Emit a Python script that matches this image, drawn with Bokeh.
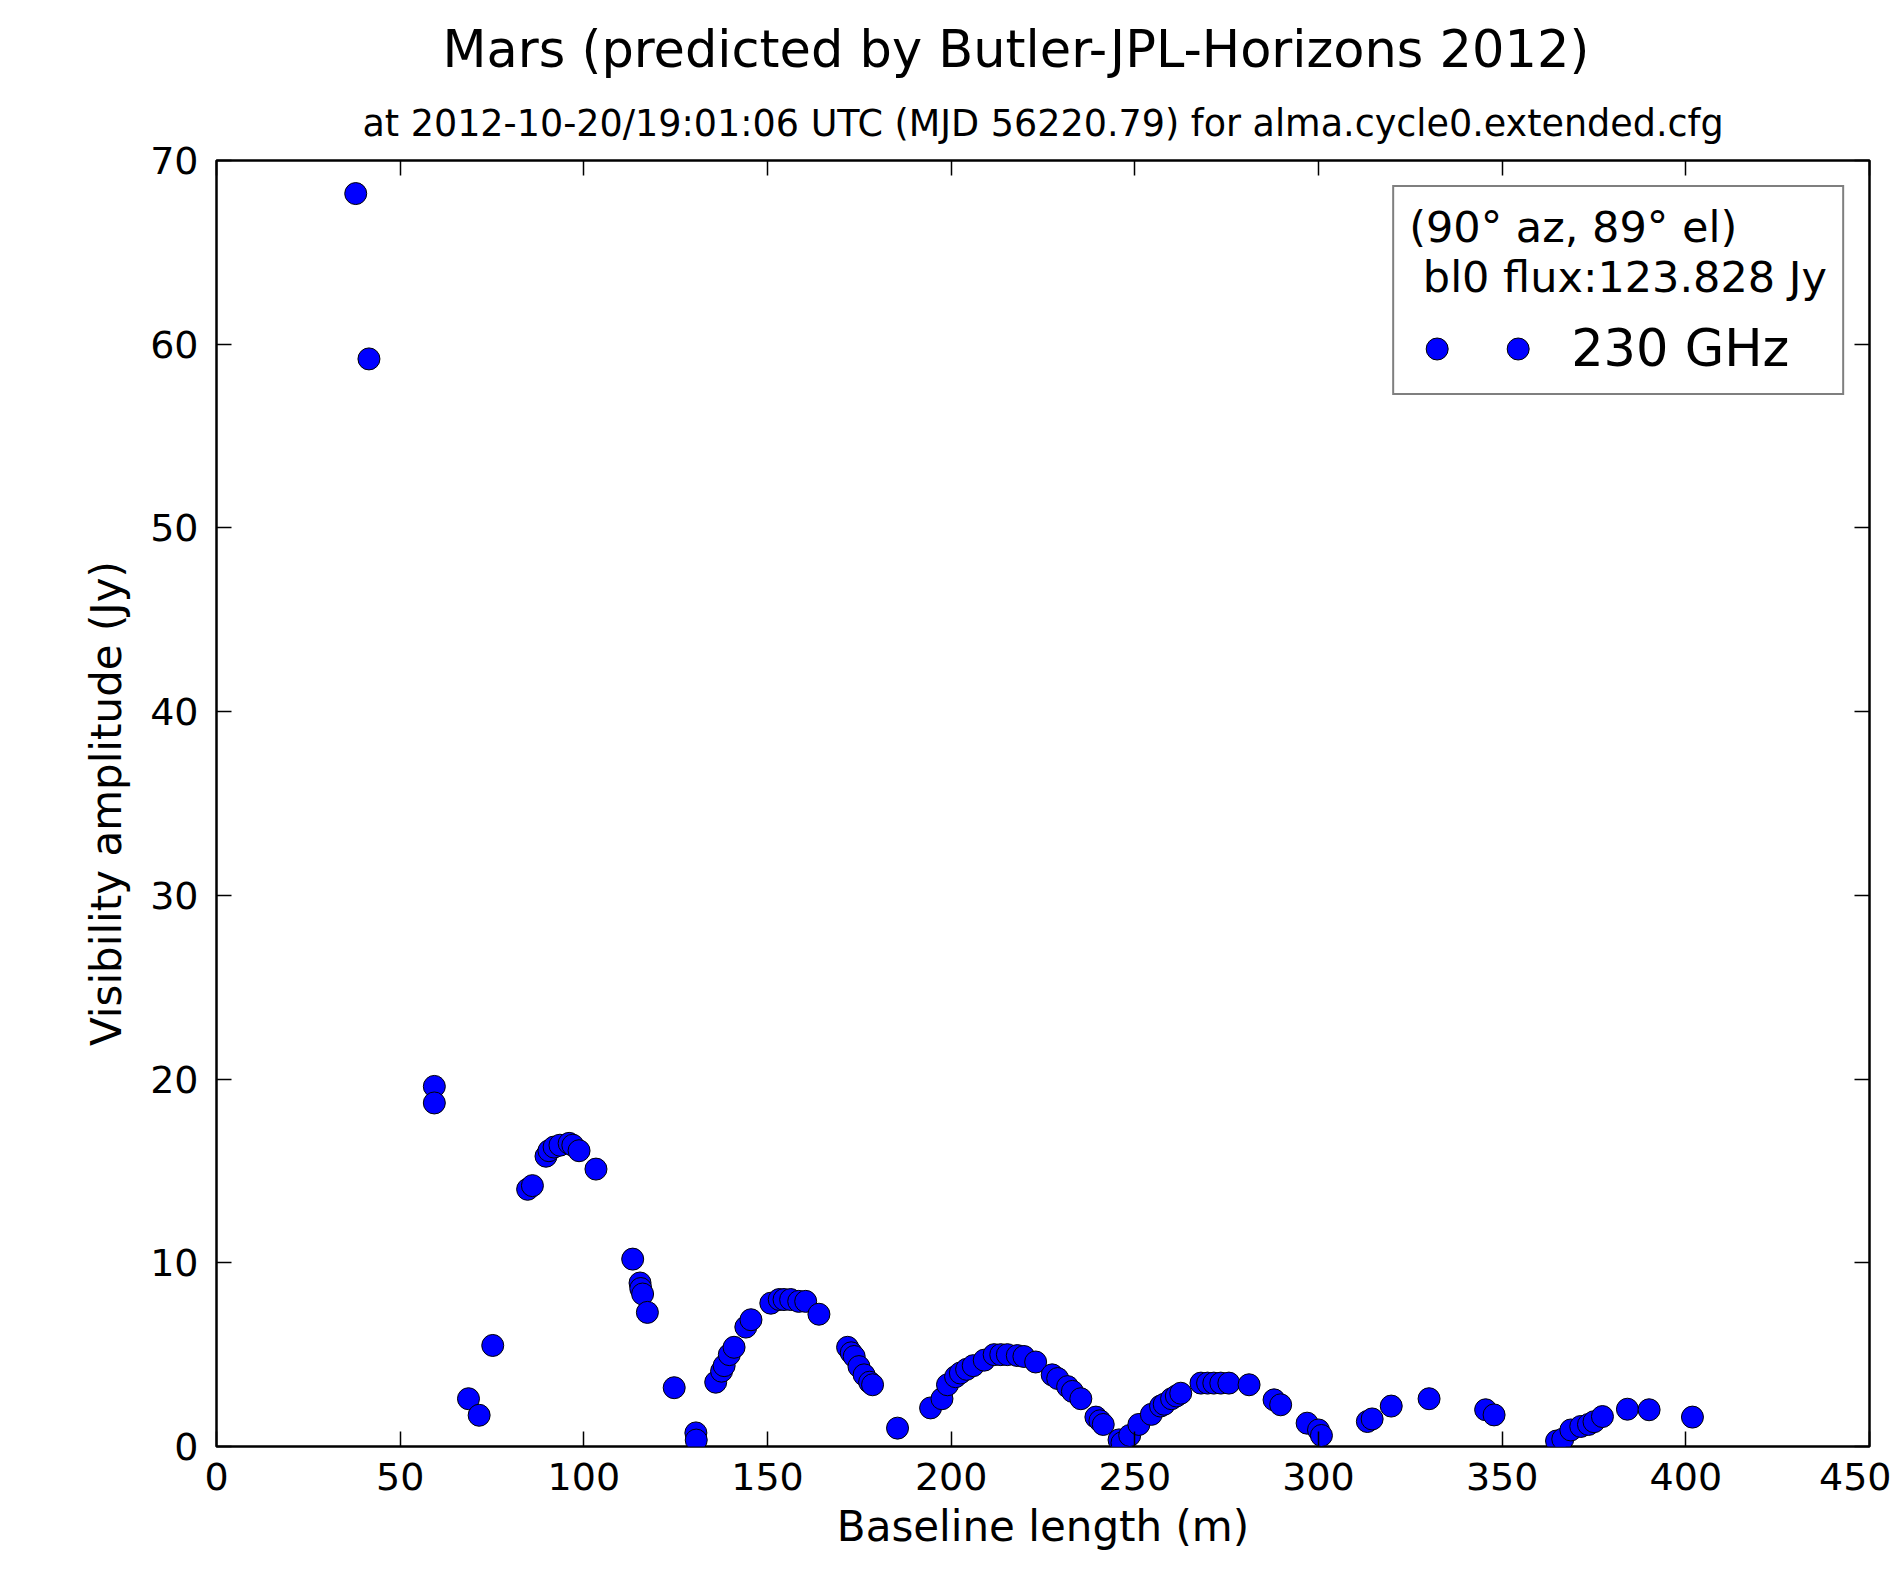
from bokeh.plotting import figure
from bokeh.models import (Legend, LegendItem, LinearAxis, Title, FixedTicker, Range1d)
from bokeh.embed import file_html
from bokeh.resources import INLINE

# ---- data ----
baseline_m = [
    37.9, 41.5, 59.3, 59.3, 68.6, 71.5, 75.2, 84.7, 86.0, 89.7,
    90.5, 91.9, 93.5, 96.0, 97.0, 98.7, 103.3, 113.3, 115.3, 115.5,
    116.0, 117.3, 124.6, 130.5, 130.6, 135.9, 137.5, 138.2, 139.6, 140.9,
    144.1, 145.5, 150.9, 153.2, 154.5, 156.3, 158.5, 160.4, 164.0, 171.8,
    172.8, 173.6, 174.9, 176.3, 177.8, 178.6, 185.4, 194.4, 197.5, 199.0,
    201.2, 202.5, 204.2, 206.0, 209.0, 211.7, 213.5, 215.3, 218.0, 219.8,
    223.0, 227.5, 229.0, 231.7, 233.0, 235.3, 239.4, 240.5, 241.4, 245.7,
    246.5, 248.6, 251.1, 254.5, 257.0, 258.0, 260.0, 261.3, 262.5, 268.0,
    269.8, 271.5, 273.4, 275.6, 281.1, 287.9, 289.7, 296.9, 300.0, 300.8,
    313.3, 314.6, 319.8, 330.1, 345.5, 347.8, 364.8, 366.5, 368.7, 371.4,
    373.5, 375.0, 377.3, 384.1, 390.0, 401.8,
]
amplitude_jy = [
    68.2, 59.2, 19.6, 18.7, 2.6, 1.7, 5.5, 14.0, 14.2, 15.8,
    16.1, 16.3, 16.4, 16.5, 16.4, 16.1, 15.1, 10.2, 8.9, 8.6,
    8.3, 7.3, 3.2, 0.74, 0.35, 3.5, 4.1, 4.4, 5.0, 5.4,
    6.5, 6.9, 7.8, 8.0, 8.0, 8.0, 7.9, 7.9, 7.2, 5.4,
    5.1, 4.9, 4.35, 3.9, 3.5, 3.36, 1.0, 2.1, 2.6, 3.36,
    3.8, 4.0, 4.2, 4.4, 4.7, 5.0, 5.0, 5.0, 4.95, 4.9,
    4.6, 3.9, 3.7, 3.26, 3.0, 2.6, 1.6, 1.4, 1.2, 0.36,
    0.2, 0.6, 1.2, 1.75, 2.2, 2.3, 2.6, 2.75, 2.9, 3.45,
    3.45, 3.45, 3.45, 3.45, 3.36, 2.54, 2.27, 1.27, 0.9, 0.6,
    1.36, 1.5, 2.2, 2.6, 2.0, 1.72, 0.3, 0.4, 0.9, 1.09,
    1.2, 1.35, 1.63, 2.03, 2.0, 1.6,
]
x_ticks = [0, 50, 100, 150, 200, 250, 300, 350, 400, 450]
y_ticks = [0, 10, 20, 30, 40, 50, 60, 70]
series_label = "230 GHz"
legend_title = "(90° az, 89° el)\n bl0 flux:123.828 Jy"
title_text = "Mars (predicted by Butler-JPL-Horizons 2012)"
subtitle_text = "at 2012-10-20/19:01:06 UTC (MJD 56220.79) for alma.cycle0.extended.cfg"

FONT = "DejaVu Sans"

p = figure(width=1891, height=1569,
           x_range=Range1d(x_ticks[0], x_ticks[-1]),
           y_range=Range1d(y_ticks[0], y_ticks[-1]),
           output_backend="svg", toolbar_location=None,
           min_border_left=216, min_border_right=22,
           min_border_top=160, min_border_bottom=123,
           title=None)

p.grid.visible = False
p.outline_line_color = "black"
p.outline_line_width = 2.5
p.background_fill_color = "white"
p.border_fill_color = "white"

def style_axis(ax, show_labels):
    ax.major_tick_in = 15
    ax.major_tick_out = 0
    ax.minor_tick_line_color = None
    ax.major_tick_line_color = "black"
    ax.major_tick_line_width = 1.5
    ax.axis_line_color = None
    ax.major_label_text_font = FONT
    if show_labels:
        ax.major_label_text_font_size = "38px"
        ax.major_label_text_color = "black"
    else:
        ax.major_label_text_font_size = "1px"
        ax.major_label_text_color = None
        ax.major_label_standoff = 0

xax = p.xaxis[0]
yax = p.yaxis[0]
xax.ticker = FixedTicker(ticks=x_ticks)
yax.ticker = FixedTicker(ticks=y_ticks)
style_axis(xax, True)
style_axis(yax, True)
xax.major_label_standoff = 16
yax.major_label_standoff = 18
xax.axis_label = "Baseline length (m)"
yax.axis_label = "Visibility amplitude (Jy)"
for ax in (xax, yax):
    ax.axis_label_text_font = FONT
    ax.axis_label_text_font_size = "42px"
    ax.axis_label_text_font_style = "normal"
    ax.axis_label_text_color = "black"
xax.axis_label_standoff = 9
yax.axis_label_standoff = 16

top_ax = LinearAxis(ticker=FixedTicker(ticks=x_ticks))
right_ax = LinearAxis(ticker=FixedTicker(ticks=y_ticks))
style_axis(top_ax, False)
style_axis(right_ax, False)
p.add_layout(top_ax, "above")
p.add_layout(right_ax, "right")

sub = Title(text=subtitle_text, text_font=FONT, text_font_size="36.5px",
            text_font_style="normal", text_color="black", align="center",
            standoff=32)
p.add_layout(sub, "above")
main = Title(text=title_text, text_font=FONT, text_font_size="51px",
             text_font_style="normal", text_color="black", align="left",
             offset=226, standoff=10)
p.add_layout(main, "above")

r = p.scatter(x=baseline_m, y=amplitude_jy, size=22, marker="circle",
              fill_color="#0000ff", line_color="black", line_width=1)

legend = Legend(
    items=[LegendItem(label="", renderers=[r]),
           LegendItem(label=series_label, renderers=[r])],
    orientation="horizontal", location="top_right",
    title=legend_title, title_text_font=FONT, title_text_font_size="43px",
    title_text_font_style="normal", title_text_color="black", title_standoff=17,
    label_text_font=FONT, label_text_font_size="51px", label_text_color="black",
    glyph_width=55, glyph_height=55, label_standoff=26, label_width=0,
    spacing=0, padding=15, margin=25,
    border_line_color="black", border_line_width=2,
    background_fill_color="white", background_fill_alpha=1.0,
)
p.add_layout(legend)

open("out.html", "w").write(file_html(p, INLINE))
